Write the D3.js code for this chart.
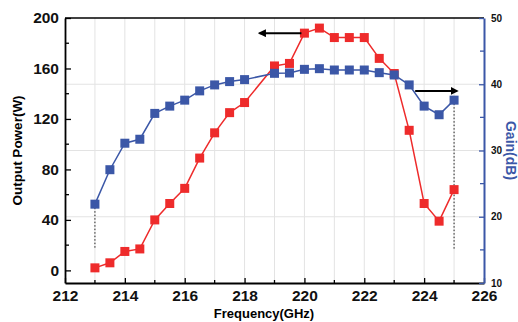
<!DOCTYPE html>
<html lang="en">
<head>
  <meta charset="UTF-8">
  <title>Output power and gain vs frequency</title>
  <style>
    body { margin: 0; background: #fff; }
    svg { display: block; font-family: "Liberation Sans", Arial, sans-serif; }
    .tick text { font-weight: bold; }
  </style>
</head>
<body>
  <svg width="518" height="322"></svg>

  <script src="https://d3js.org/d3.v7.min.js"></script>
  <script>
    // data
    const freq = [213, 213.5, 214, 214.5, 215, 215.5, 216, 216.5, 217, 217.5, 218,
                  219, 219.5, 220, 220.5, 221, 221.5, 222, 222.5, 223, 223.5, 224, 224.5, 225];
    const power = [2, 6, 15, 17, 40, 53, 65, 89, 109, 125, 133,
                   162, 164, 188, 192, 184.5, 184.5, 184.5, 168, 156, 111, 53, 39, 64];
    const gain = [21.9, 27.1, 31.1, 31.7, 35.6, 36.7, 37.6, 39.0, 39.9, 40.4, 40.7,
                  41.65, 41.7, 42.25, 42.35, 42.15, 42.15, 42.15, 41.75, 41.4, 39.9, 36.7, 35.4, 37.6];
    const xTicks = [212, 214, 216, 218, 220, 222, 224, 226];
    const powerTicks = [0, 40, 80, 120, 160, 200];
    const gainTicks = [10, 20, 30, 40, 50];

    const red = "#ee2b2b", blue = "#3b57a7";
    const pLeft = 65, pRight = 484, pTop = 18, pBottom = 283;

    const svg = d3.select("svg");

    const x = d3.scaleLinear().domain([212, 226]).range([pLeft, pRight]);
    const yL = d3.scaleLinear().domain([-10, 200]).range([pBottom, pTop]);
    const yR = d3.scaleLinear().domain([10, 50]).range([pBottom, pTop]);

    // grid
    const grid = svg.append("g").attr("stroke", "#e3e3e3").attr("stroke-width", 1);
    grid.selectAll(".gx").data(d3.range(213, 226, 1)).join("line")
      .attr("x1", d => x(d)).attr("x2", d => x(d))
      .attr("y1", pTop).attr("y2", pBottom);
    grid.selectAll(".gy").data([20, 30, 40]).join("line")
      .attr("x1", pLeft).attr("x2", pRight)
      .attr("y1", d => yR(d)).attr("y2", d => yR(d));

    // top frame line
    svg.append("line").attr("x1", pLeft).attr("x2", pRight).attr("y1", pTop).attr("y2", pTop)
      .attr("stroke", "#000").attr("stroke-width", 1.5);

    // axes
    const xAxis = svg.append("g").attr("transform", `translate(0,${pBottom})`)
      .call(d3.axisBottom(x).tickValues(xTicks).tickFormat(d3.format("d")).tickSizeInner(-5).tickSizeOuter(0).tickPadding(7));
    xAxis.append("g").selectAll("line").data(d3.range(213, 226, 2)).join("line")
      .attr("x1", d => x(d)).attr("x2", d => x(d)).attr("y1", 0).attr("y2", -3)
      .attr("stroke", "#000").attr("stroke-width", 1.3);

    const lAxis = svg.append("g").attr("transform", `translate(${pLeft},0)`)
      .call(d3.axisLeft(yL).tickValues(powerTicks).tickSizeInner(-6).tickSizeOuter(0).tickPadding(6));
    lAxis.append("g").selectAll("line").data(d3.range(20, 200, 40)).join("line")
      .attr("x1", 0).attr("x2", 4).attr("y1", d => yL(d)).attr("y2", d => yL(d))
      .attr("stroke", "#000").attr("stroke-width", 1.3);

    const rAxis = svg.append("g").attr("transform", `translate(${pRight},0)`)
      .call(d3.axisRight(yR).tickValues(gainTicks).tickSizeInner(-5).tickSizeOuter(0).tickPadding(7));
    rAxis.append("g").selectAll("line").data(d3.range(15, 50, 10)).join("line")
      .attr("x1", 0).attr("x2", -4).attr("y1", d => yR(d)).attr("y2", d => yR(d))
      .attr("stroke", blue).attr("stroke-width", 1.3);

    [xAxis, lAxis].forEach(a => {
      a.select(".domain").attr("stroke", "#000").attr("stroke-width", 1.8);
      a.selectAll(".tick line").attr("stroke", "#000").attr("stroke-width", 1.3);
      a.selectAll(".tick text").attr("font-size", 15.5).attr("fill", "#111");
    });
    rAxis.select(".domain").attr("stroke", blue).attr("stroke-width", 2);
    rAxis.selectAll(".tick line").attr("stroke", blue).attr("stroke-width", 1.3);
    rAxis.selectAll(".tick text").attr("font-size", 10).attr("fill", "#111");

    // axis titles
    svg.append("text").attr("transform", `translate(22,${(pTop + pBottom) / 2}) rotate(-90)`)
      .attr("text-anchor", "middle").attr("font-size", 13.5).attr("font-weight", "bold")
      .text("Output Power(W)");
    svg.append("text").attr("transform", `translate(506,${(pTop + pBottom) / 2}) rotate(90)`)
      .attr("text-anchor", "middle").attr("font-size", 14).attr("font-weight", "bold")
      .attr("fill", blue).text("Gain(dB)");
    svg.append("text").attr("x", 264).attr("y", 318)
      .attr("text-anchor", "middle").attr("font-size", 13).attr("font-weight", "bold")
      .text("Frequency(GHz)");

    // dotted guide lines at the band edges
    svg.append("line").attr("x1", x(213)).attr("x2", x(213))
      .attr("y1", yR(gain[0])).attr("y2", yL(17))
      .attr("stroke", "#222").attr("stroke-width", 1).attr("stroke-dasharray", "1.5,2");
    svg.append("line").attr("x1", x(225)).attr("x2", x(225))
      .attr("y1", yR(gain[gain.length - 1])).attr("y2", yL(16))
      .attr("stroke", "#222").attr("stroke-width", 1).attr("stroke-dasharray", "1.5,2");

    // series
    const series = [
      { vals: power, y: yL, color: red },
      { vals: gain, y: yR, color: blue }
    ];
    series.forEach(s => {
      const pts = freq.map((f, i) => [f, s.vals[i]]);
      svg.append("path").datum(pts)
        .attr("fill", "none").attr("stroke", s.color).attr("stroke-width", 1.5)
        .attr("d", d3.line().x(d => x(d[0])).y(d => s.y(d[1])));
      svg.append("g").selectAll("rect").data(pts).join("rect")
        .attr("x", d => x(d[0]) - 4.5).attr("y", d => s.y(d[1]) - 4.5)
        .attr("width", 9).attr("height", 9).attr("fill", s.color);
    });

    // arrows pointing to the respective axes
    svg.append("defs").append("marker").attr("id", "ah")
      .attr("viewBox", "0 0 10 10").attr("refX", 8).attr("refY", 5)
      .attr("markerWidth", 4).attr("markerHeight", 4).attr("orient", "auto")
      .append("path").attr("d", "M0,0L10,5L0,10z").attr("fill", "#000");
    svg.append("line").attr("x1", x(219.9)).attr("y1", yL(188))
      .attr("x2", x(218.5)).attr("y2", yL(188))
      .attr("stroke", "#000").attr("stroke-width", 2).attr("marker-end", "url(#ah)");
    svg.append("line").attr("x1", x(223.7)).attr("y1", yR(39.0))
      .attr("x2", x(225.1)).attr("y2", yR(39.0))
      .attr("stroke", "#000").attr("stroke-width", 2).attr("marker-end", "url(#ah)");
  </script>
</body>
</html>
